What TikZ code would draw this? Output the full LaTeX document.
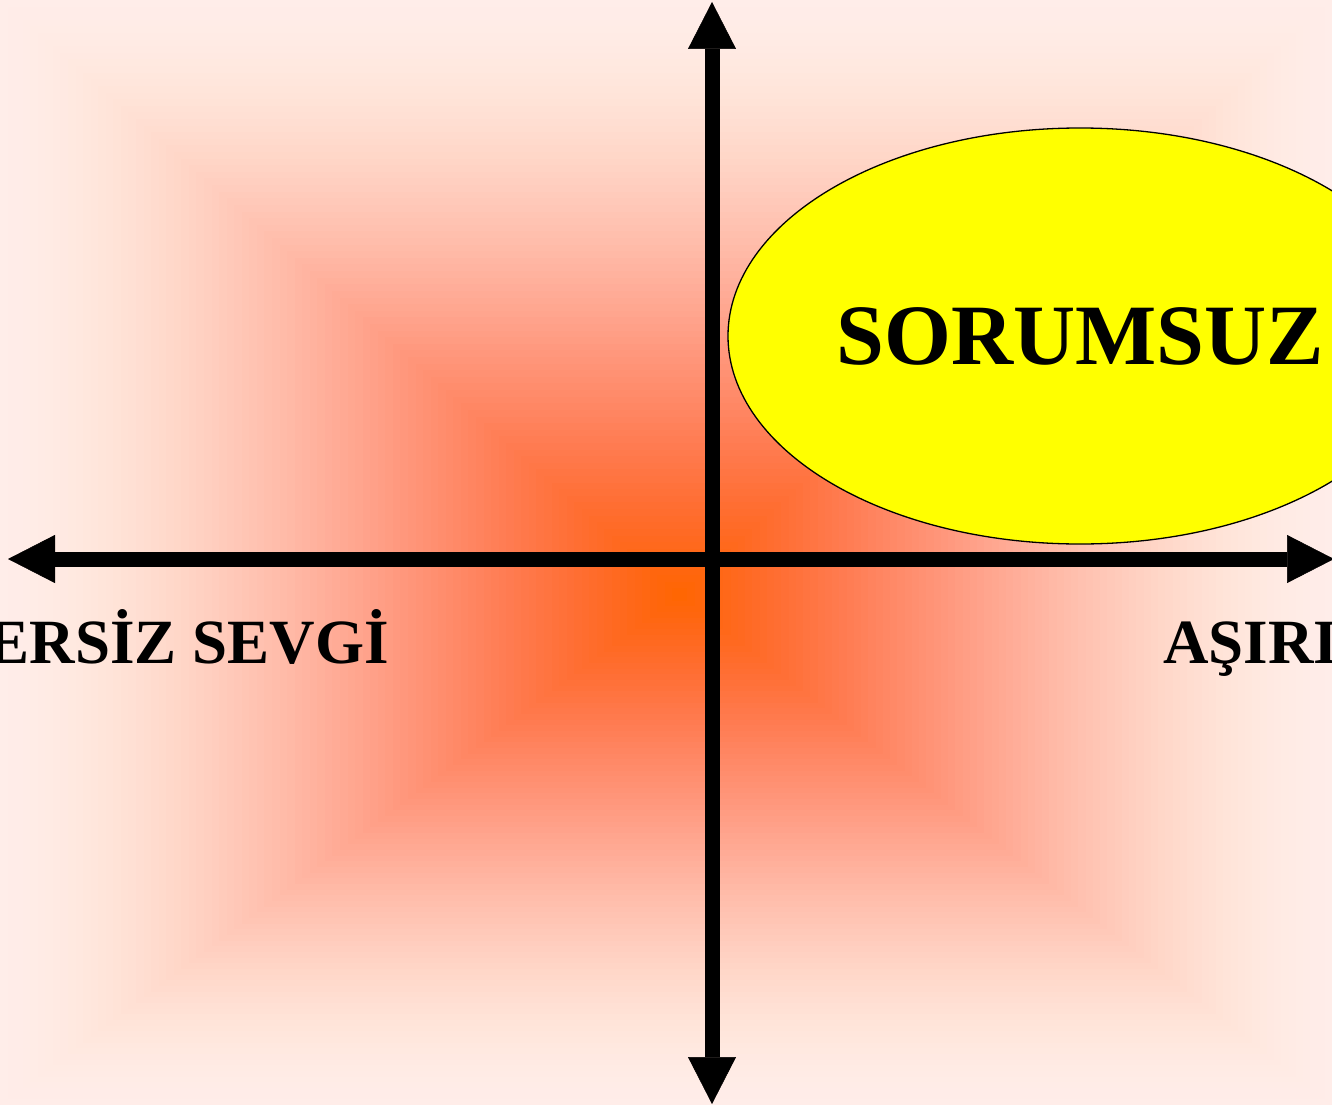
\documentclass[tikz,border=0pt]{standalone}
\usepackage{fontspec}
\setmainfont{Liberation Serif}
\usepackage{tikz}
\usetikzlibrary{arrows.meta,shapes.geometric}
\definecolor{edgepink}{RGB}{255, 237, 233}
\definecolor{lemonyellow}{RGB}{255, 255, 0}

\begin{document}
\begin{tikzpicture}[x=1pt, y=-1pt, >={Triangle[length=47pt, width=48pt, line width=0.5pt]},
    axis/.style={line width=15pt, <->},
    axislabel/.style={inner sep=0pt, font=\fontsize{63}{70}\selectfont\bfseries}]
    \useasboundingbox (0,0) rectangle (1332,1105);
    \clip (0,0) rectangle (1332,1105);

    % Background, rectangles from the edge in to the centre
    \fill[edgepink] (0,0) rectangle (1332,1105);
    \foreach \i in {1,...,90}{
        \pgfmathsetmacro{\pos}{\i/90}
        \pgfmathtruncatemacro{\gch}{237-135*(3*\pos^2-2*\pos^3)}
        \pgfmathtruncatemacro{\bch}{233-233*(\pos^1.45)}
        \definecolor{band}{RGB}{255,\gch,\bch}
        \fill[band] (\pos*680, \pos*595) rectangle (1332-\pos*652, 1105-\pos*510);
    }

    % Axes
    \coordinate (west) at (8,559);
    \coordinate (east) at (1334,559);
    \coordinate (north) at (712,2);
    \coordinate (south) at (712,1104);
    \draw[axis] (west) -- (east);
    \draw[axis] (south) -- (north);

    % Yellow ellipse
    \node[ellipse, draw=black, line width=1.3pt, fill=lemonyellow,
          minimum width=704pt, minimum height=416pt, inner sep=0pt,
          font=\fontsize{86}{90}\selectfont\bfseries] (sorumsuz) at (1080,336) {SORUMSUZ};

    % Axis labels
    \node[axislabel, anchor=base east] (sevgi) at (389,663) {ERSİZ SEVGİ};
    \node[axislabel, anchor=base west] (asiri) at (1163,663) {AŞIRI};
\end{tikzpicture}
\end{document}
